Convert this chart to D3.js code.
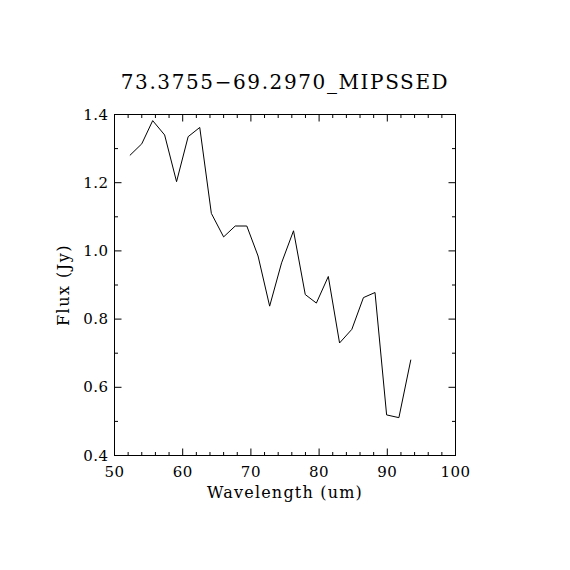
<html>
<head>
<script src="https://cdn.jsdelivr.net/npm/d3@7"></script>
<style>
  body { margin: 0; background: white; }
  text { font-family: "DejaVu Serif", "Liberation Serif", serif; fill: black; }
</style>
</head>
<body>
<script>
// chart data
const title = "73.3755\u221269.2970_MIPSSED";
const wavelength = [52.25, 54.0, 55.6, 57.35, 59.1, 60.8, 62.5, 64.2, 66.0, 67.7, 69.4, 71.05, 72.75,
  74.5, 76.25, 77.97, 79.6, 81.35, 83.0, 84.8, 86.5, 88.2, 89.9, 91.7, 93.45];
const flux = [1.280, 1.314, 1.382, 1.340, 1.203, 1.335, 1.362, 1.110, 1.041, 1.073, 1.073, 0.985, 0.838,
  0.965, 1.059, 0.872, 0.847, 0.925, 0.730, 0.770, 0.863, 0.878, 0.519, 0.511, 0.681];
const xTicks = [50, 60, 70, 80, 90, 100];
const yTicks = [0.4, 0.6, 0.8, 1.0, 1.2, 1.4];

const w = 570, h = 570;
const padLeft = 114.5, padRight = 455.5, padTop = 114.5, padBottom = 455.5;

const x = d3.scaleLinear().domain([50, 100]).range([padLeft, padRight]);
const y = d3.scaleLinear().domain([0.4, 1.4]).range([padBottom, padTop]);

const svg = d3.select("body").append("svg")
  .attr("width", w)
  .attr("height", h);

// frame
svg.append("rect")
  .attr("x", padLeft).attr("y", padTop)
  .attr("width", padRight - padLeft).attr("height", padBottom - padTop)
  .attr("fill", "none").attr("stroke", "black").attr("stroke-width", 1);

// minor and major ticks, inward on all four sides
const xMinor = d3.range(50, 100.1, 2);
const yMinor = d3.range(0.4, 1.41, 0.1);
const tk = svg.append("g").attr("stroke", "black").attr("stroke-width", 1);
xMinor.forEach(function (v) {
  const len = xTicks.includes(Math.round(v)) ? 7 : 3.5;
  tk.append("line").attr("x1", x(v)).attr("x2", x(v)).attr("y1", padBottom).attr("y2", padBottom - len);
  tk.append("line").attr("x1", x(v)).attr("x2", x(v)).attr("y1", padTop).attr("y2", padTop + len);
});
yMinor.forEach(function (v) {
  const major = yTicks.some(function (t) { return Math.abs(t - v) < 1e-6; });
  const len = major ? 7 : 3.5;
  tk.append("line").attr("y1", y(v)).attr("y2", y(v)).attr("x1", padLeft).attr("x2", padLeft + len);
  tk.append("line").attr("y1", y(v)).attr("y2", y(v)).attr("x1", padRight).attr("x2", padRight - len);
});

// tick labels
svg.selectAll(".xl").data(xTicks).enter().append("text")
  .attr("x", function (d) { return x(d); })
  .attr("y", padBottom + 21)
  .attr("text-anchor", "middle")
  .attr("font-size", 15)
  .attr("letter-spacing", 0.5)
  .text(function (d) { return d; });

svg.selectAll(".yl").data(yTicks).enter().append("text")
  .attr("x", padLeft - 6)
  .attr("y", function (d) { return y(d) + 5; })
  .attr("text-anchor", "end")
  .attr("font-size", 15)
  .attr("letter-spacing", 0.5)
  .text(function (d) { return d.toFixed(1); });

// the spectrum
const line = d3.line()
  .x(function (d, i) { return x(wavelength[i]); })
  .y(function (d) { return y(d); });
svg.append("path")
  .datum(flux)
  .attr("d", line)
  .attr("fill", "none")
  .attr("stroke", "black")
  .attr("stroke-width", 1);

// titles
svg.append("text")
  .attr("x", (padLeft + padRight) / 2).attr("y", 89)
  .attr("text-anchor", "middle").attr("font-size", 20)
  .attr("letter-spacing", 1.6)
  .text(title);
svg.append("text")
  .attr("x", (padLeft + padRight) / 2).attr("y", 498)
  .attr("text-anchor", "middle").attr("font-size", 16)
  .attr("letter-spacing", 1.2)
  .text("Wavelength (um)");
svg.append("text")
  .attr("transform", "translate(69," + (padTop + padBottom) / 2 + ") rotate(-90)")
  .attr("text-anchor", "middle").attr("font-size", 16)
  .attr("letter-spacing", 1.5)
  .text("Flux (Jy)");
</script>
</body>
</html>
